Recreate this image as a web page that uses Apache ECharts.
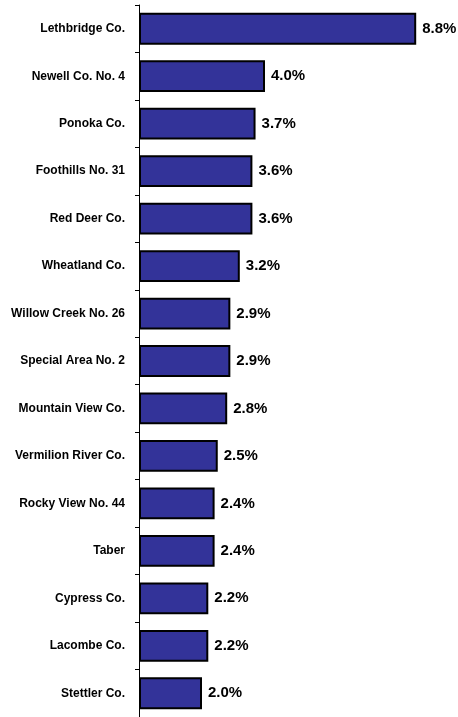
<!DOCTYPE html>
<html>
<head>
<meta charset="utf-8">
<script src="https://cdn.jsdelivr.net/npm/echarts@6/dist/echarts.min.js"></script>
<style>
  html, body { margin: 0; padding: 0; background: #fff; }
  #chart { width: 458px; height: 717px; }
</style>
</head>
<body>
<div id="chart"></div>
<script>
// municipalities, top to bottom
var categories = [
  "Lethbridge Co.", "Newell Co. No. 4", "Ponoka Co.", "Foothills No. 31",
  "Red Deer Co.", "Wheatland Co.", "Willow Creek No. 26", "Special Area No. 2",
  "Mountain View Co.", "Vermilion River Co.", "Rocky View No. 44", "Taber",
  "Cypress Co.", "Lacombe Co.", "Stettler Co."
];
var shares = [8.8, 4.0, 3.7, 3.6, 3.6, 3.2, 2.9, 2.9, 2.8, 2.5, 2.4, 2.4, 2.2, 2.2, 2.0];

var font = "'Liberation Sans Narrow', 'Arial Narrow', 'Liberation Sans', sans-serif";

var chart = echarts.init(document.getElementById("chart"));
chart.setOption({
  animation: false,
  grid: { left: 139, right: 4, top: 5, bottom: -8 },
  xAxis: {
    type: "value",
    min: 0,
    max: 10,
    show: false
  },
  yAxis: {
    type: "category",
    inverse: true,
    data: categories,
    axisLine: { show: true, lineStyle: { color: "#000", width: 1 } },
    axisTick: { show: true, length: 4, lineStyle: { color: "#000" } },
    axisLabel: {
      margin: 14,
      color: "#000",
      fontFamily: font,
      fontWeight: "bold",
      fontSize: 12
    },
    splitLine: { show: false }
  },
  series: [
    {
      type: "bar",
      data: shares,
      barCategoryGap: "33%",
      itemStyle: { color: "#333399", borderColor: "#000", borderWidth: 2 },
      label: {
        show: true,
        position: "right",
        distance: 6,
        color: "#000",
        fontFamily: font,
        fontWeight: "bold",
        fontSize: 15,
        formatter: function (p) { return p.value.toFixed(1) + "%"; }
      }
    }
  ]
});
</script>
</body>
</html>
